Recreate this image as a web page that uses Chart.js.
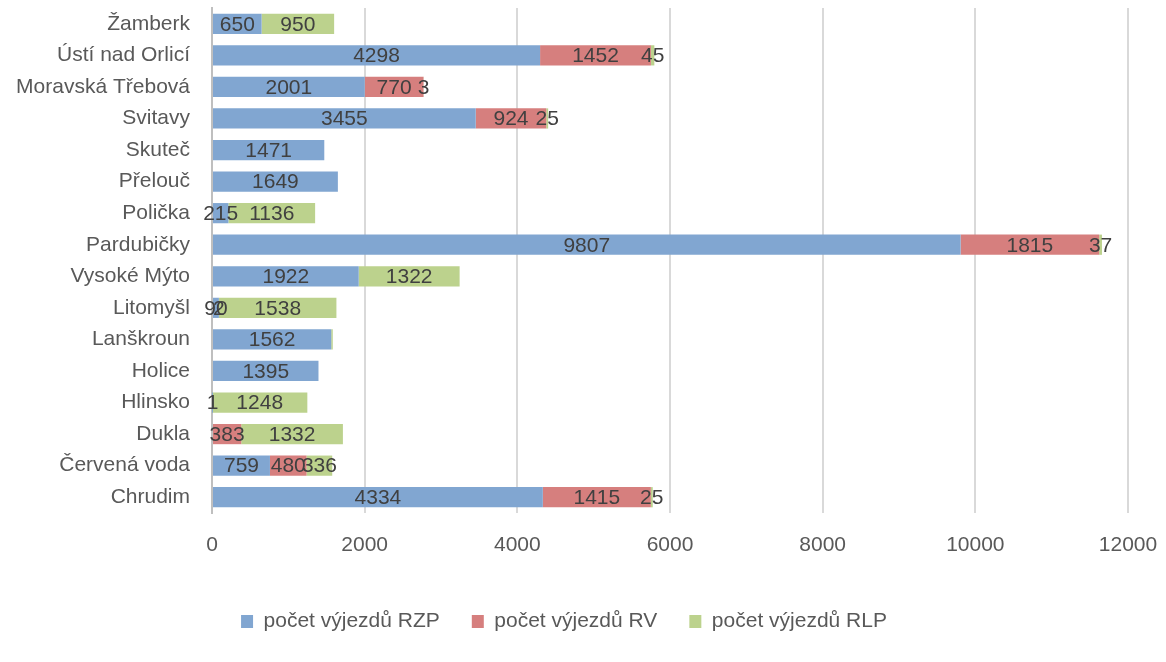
<!DOCTYPE html>
<html>
<head>
<meta charset="utf-8">
<script src="https://cdn.jsdelivr.net/npm/chart.js@4/dist/chart.umd.min.js"></script>
<style>
  html, body { margin: 0; padding: 0; background: #fff; }
  #wrap { width: 1166px; height: 662px; }
</style>
</head>
<body>
<div id="wrap"><canvas id="chart"></canvas></div>
<script>
// Kategorie (shora dolů)
const stanoviste = ['Žamberk', 'Ústí nad Orlicí', 'Moravská Třebová', 'Svitavy', 'Skuteč', 'Přelouč', 'Polička',
    'Pardubičky', 'Vysoké Mýto', 'Litomyšl', 'Lanškroun', 'Holice', 'Hlinsko', 'Dukla', 'Červená voda', 'Chrudim'];

const vyjezdyRZP = [650, 4298, 2001, 3455, 1471, 1649, 215, 9807, 1922, 90, 1562, 1395, 1, 0, 759, 4334];
const vyjezdyRV  = [0, 1452, 770, 924, 0, 0, 0, 1815, 0, 2, 0, 0, 0, 383, 480, 1415];
const vyjezdyRLP = [950, 45, 3, 25, 0, 0, 1136, 37, 1322, 1538, 20, 0, 1248, 1332, 336, 25];

const osaX = [0, 2000, 4000, 6000, 8000, 10000, 12000];

// popisky, které v originále nejsou vidět (datasetIndex, index)
const bezPopisku = [[2, 10]];

const textColor = '#404040';
const axisColor = '#595959';

// Popisky hodnot uprostřed segmentů
const popiskyPlugin = {
    id: 'popisky',
    afterDatasetsDraw(chart) {
        const ctx = chart.ctx;
        ctx.save();
        ctx.font = '21px "Liberation Sans"';
        ctx.fillStyle = textColor;
        ctx.textAlign = 'center';
        ctx.textBaseline = 'middle';
        chart.data.datasets.forEach((ds, di) => {
            const meta = chart.getDatasetMeta(di);
            meta.data.forEach((el, i) => {
                const v = ds.data[i];
                if (!v) return;
                if (bezPopisku.some(p => p[0] === di && p[1] === i)) return;
                const p = el.getProps(['x', 'base', 'y'], true);
                ctx.fillText(String(v), (p.x + p.base) / 2, p.y + 1);
            });
        });
        ctx.restore();
    }
};

const ctx = document.getElementById('chart').getContext('2d');
const chart = new Chart(ctx, {
    type: 'bar',
    data: {
        labels: stanoviste,
        datasets: [
            { label: 'počet výjezdů RZP', data: vyjezdyRZP, backgroundColor: '#81A6D1' },
            { label: 'počet výjezdů RV', data: vyjezdyRV, backgroundColor: '#D67F7E' },
            { label: 'počet výjezdů RLP', data: vyjezdyRLP, backgroundColor: '#BCD28D' }
        ]
    },
    options: {
        indexAxis: 'y',
        responsive: true,
        maintainAspectRatio: false,
        animation: false,
        categoryPercentage: 1,
        barPercentage: 0.64,
        layout: { padding: { top: 8, right: 38, bottom: 20, left: 0 } },
        plugins: {
            legend: {
                position: 'bottom',
                labels: {
                    boxWidth: 12,
                    boxHeight: 13,
                    padding: 32,
                    color: axisColor,
                    font: { family: 'Liberation Sans', size: 21 }
                }
            },
            tooltip: { enabled: false }
        },
        scales: {
            x: {
                stacked: true,
                min: 0,
                max: 12000,
                afterBuildTicks(scale) {
                    scale.ticks = osaX.map(v => ({ value: v }));
                },
                afterFit(scale) {
                    scale.height = 66;
                    scale.paddingLeft = 0;
                    scale.paddingRight = 0;
                },
                grid: { color: '#D9D9D9', lineWidth: 2, drawTicks: false },
                border: { display: false },
                ticks: {
                    padding: 20,
                    color: axisColor,
                    font: { family: 'Liberation Sans', size: 21 },
                    callback: v => String(v)
                }
            },
            y: {
                stacked: true,
                afterFit(scale) {
                    scale.width = 212;
                    scale.paddingTop = 0;
                    scale.paddingBottom = 0;
                },
                grid: { display: false, drawTicks: false },
                border: { display: true, color: '#BFBFBF', width: 2 },
                ticks: {
                    padding: 22,
                    color: axisColor,
                    font: { family: 'Liberation Sans', size: 21 }
                }
            }
        }
    },
    plugins: [popiskyPlugin]
});
</script>
</body>
</html>
